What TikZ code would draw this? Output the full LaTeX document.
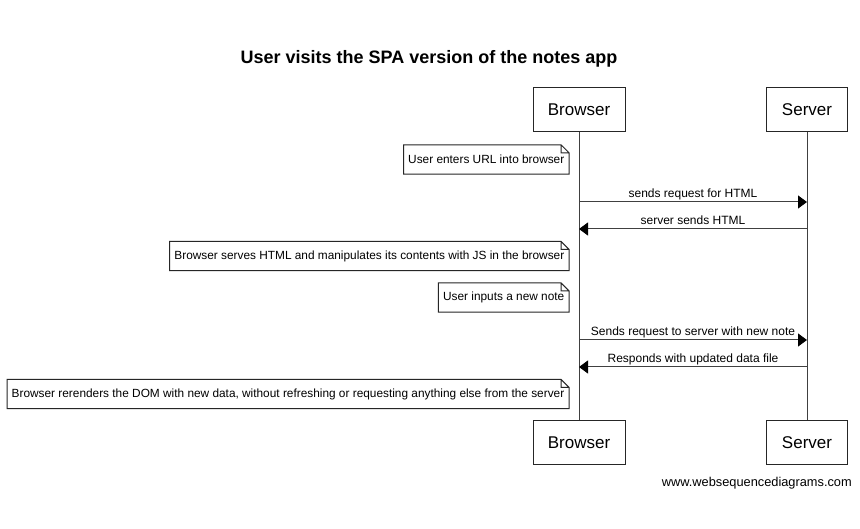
\documentclass[tikz,border=0pt]{standalone}
\usepackage{fontspec}
\setmainfont{Liberation Sans}
\usetikzlibrary{arrows.meta}
\begin{document}
\begin{tikzpicture}[x=1pt,y=-1pt,
  actorbox/.style={draw=black!85, line width=1pt, minimum height=44pt, inner sep=0pt, font=\fontsize{17}{20}\selectfont},
  notebox/.style={anchor=east, minimum height=29pt, inner xsep=4.5pt, inner ysep=0pt, font=\fontsize{11.85}{14}\selectfont},
  noteline/.style={draw=black!85, line width=1pt},
  msg/.style={draw=black!75, line width=1pt, -{Triangle[length=9pt,width=13pt,color=black]}},
  msglabel/.style={above, inner sep=0pt, yshift=1.5pt, text depth=2.5pt, font=\fontsize{12}{14}\selectfont},
  lifeline/.style={draw=black!75, line width=1pt}]
\useasboundingbox (0,0) rectangle (860,529);
\fill[white] (0,0) rectangle (860,529);
% title
\node[anchor=base, font=\bfseries\fontsize{18}{21}\selectfont] (title) at (429,64) {User visits the SPA version of the notes app};
% actors
\node[actorbox, minimum width=92pt] (bt) at (579,110) {Browser};
\node[actorbox, minimum width=81pt] (st) at (807,110) {Server};
\node[actorbox, minimum width=92pt] (bb) at (579,442.5) {Browser};
\node[actorbox, minimum width=81pt] (sb) at (807,442.5) {Server};
\draw[lifeline] (bt.south) -- (bb.north);
\draw[lifeline] (st.south) -- (sb.north);
% notes
\node[notebox] (n1) at (569,159.5) {User enters URL into browser};
\node[notebox] (n2) at (569,256) {Browser serves HTML and manipulates its contents with JS in the browser};
\node[notebox] (n3) at (569,297.5) {User inputs a new note};
\node[notebox] (n4) at (569,394) {Browser rerenders the DOM with new data, without refreshing or requesting anything else from the server};
\foreach \n in {n1,n2,n3,n4}
  \draw[noteline] (\n.south west) -- (\n.north west) -- ([xshift=-8pt]\n.north east) -- ([yshift=-8pt]\n.north east) -- (\n.south east) -- cycle
        ([xshift=-8pt]\n.north east) |- ([yshift=-8pt]\n.north east);
% message end points
\coordinate (b1) at (579,202); \coordinate (s1) at (807,202);
\coordinate (b2) at (579,229); \coordinate (s2) at (807,229);
\coordinate (b3) at (579,340); \coordinate (s3) at (807,340);
\coordinate (b4) at (579,367); \coordinate (s4) at (807,367);
\draw[msg] (b1) -- node[msglabel] (l1) {sends request for HTML} (s1);
\draw[msg] (s2) -- node[msglabel] (l2) {server sends HTML} (b2);
\draw[msg] (b3) -- node[msglabel] (l3) {Sends request to server with new note} (s3);
\draw[msg] (s4) -- node[msglabel] (l4) {Responds with updated data file} (b4);
% footer
\node[anchor=base east, inner sep=0pt, font=\fontsize{12.8}{15}\selectfont] (footer) at (852,486) {www.websequencediagrams.com};
\end{tikzpicture}
\end{document}
